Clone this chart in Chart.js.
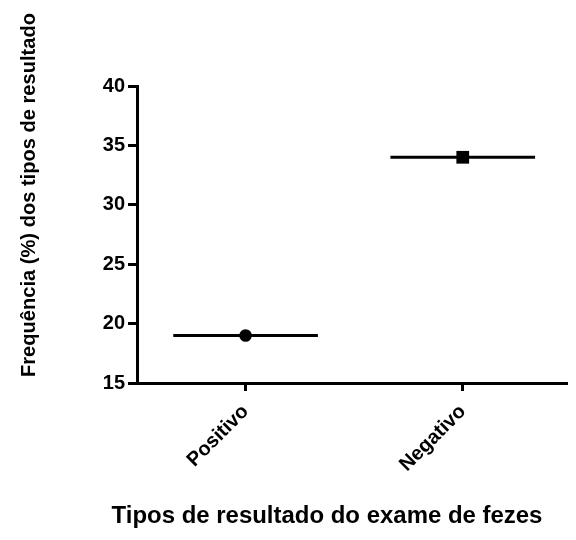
<!DOCTYPE html>
<html>
<head>
<meta charset="utf-8">
<script src="https://cdn.jsdelivr.net/npm/chart.js@4"></script>
<style>
  html, body { margin: 0; padding: 0; background: #ffffff; }
  #wrap { width: 576px; height: 540px; position: relative; }
</style>
</head>
<body>
<div id="wrap"><canvas id="c" width="576" height="540"></canvas></div>
<script>
const categories = ["Positivo", "Negativo"];
const values = [19, 34];
const markerStyles = ["circle", "rect"];
const yTicks = [15, 20, 25, 30, 35, 40];
const yTitle = "Frequência (%) dos tipos de resultado";
const xTitle = "Tipos de resultado do exame de fezes";

const halfWidth = 0.333;
const FONT = "'Liberation Sans', Arial, Helvetica, sans-serif";

const datasets = [];
categories.forEach((cat, i) => {
  datasets.push({
    label: cat + " linha",
    data: [{ x: i - halfWidth, y: values[i] }, { x: i + halfWidth, y: values[i] }],
    showLine: true,
    borderColor: "#000",
    borderWidth: 3,
    pointRadius: 0,
    fill: false
  });
  datasets.push({
    label: cat,
    data: [{ x: i, y: values[i] }],
    showLine: false,
    pointStyle: markerStyles[i],
    pointRadius: markerStyles[i] === "rect" ? 9 : 6.3,
    backgroundColor: "#000",
    borderColor: "#000",
    borderWidth: 0
  });
});

function fitFont(ctx, text, targetWidth) {
  let size = 20;
  ctx.font = "bold " + size + "px " + FONT;
  const w = ctx.measureText(text).width;
  size = size * targetWidth / w;
  return "bold " + size.toFixed(2) + "px " + FONT;
}

const titles = {
  id: "titles",
  afterDraw(chart) {
    const ctx = chart.ctx;
    ctx.save();
    ctx.fillStyle = "#000";
    ctx.font = fitFont(ctx, yTitle, 364);
    ctx.textAlign = "center";
    ctx.textBaseline = "middle";
    ctx.translate(29, 195);
    ctx.rotate(-Math.PI / 2);
    ctx.fillText(yTitle, 0, 0);
    ctx.restore();
    ctx.save();
    ctx.fillStyle = "#000";
    ctx.font = fitFont(ctx, xTitle, 431);
    ctx.textAlign = "center";
    ctx.textBaseline = "alphabetic";
    ctx.fillText(xTitle, 327, 523);
    ctx.restore();
  }
};

new Chart(document.getElementById("c"), {
  type: "scatter",
  data: { datasets },
  plugins: [titles],
  options: {
    responsive: false,
    animation: false,
    layout: { padding: { top: 86, left: 0, right: 0, bottom: 0 } },
    plugins: { legend: { display: false }, tooltip: { enabled: false } },
    scales: {
      x: {
        type: "linear",
        min: -0.5,
        max: 1.48,
        afterBuildTicks(scale) { scale.ticks = categories.map((c, i) => ({ value: i })); },
        afterFit(scale) { scale.height = 157; },
        grid: { drawOnChartArea: false, drawTicks: true, tickLength: 8, tickWidth: 3, tickColor: "#000" },
        border: { display: true, color: "#000", width: 3 },
        ticks: {
          color: "#000",
          font: { family: FONT, size: 20, weight: "bold" },
          minRotation: 45,
          maxRotation: 45,
          padding: 9,
          callback: (v) => categories[v]
        }
      },
      y: {
        min: 15,
        max: 40,
        afterBuildTicks(scale) { scale.ticks = yTicks.map(v => ({ value: v })); },
        afterFit(scale) { scale.width = 137; },
        grid: { drawOnChartArea: false, drawTicks: true, tickLength: 9, tickWidth: 3, tickColor: "#000" },
        border: { display: true, color: "#000", width: 3 },
        ticks: {
          color: "#000",
          font: { family: FONT, size: 20, weight: "bold" },
          padding: 3
        }
      }
    }
  }
});
</script>
</body>
</html>
